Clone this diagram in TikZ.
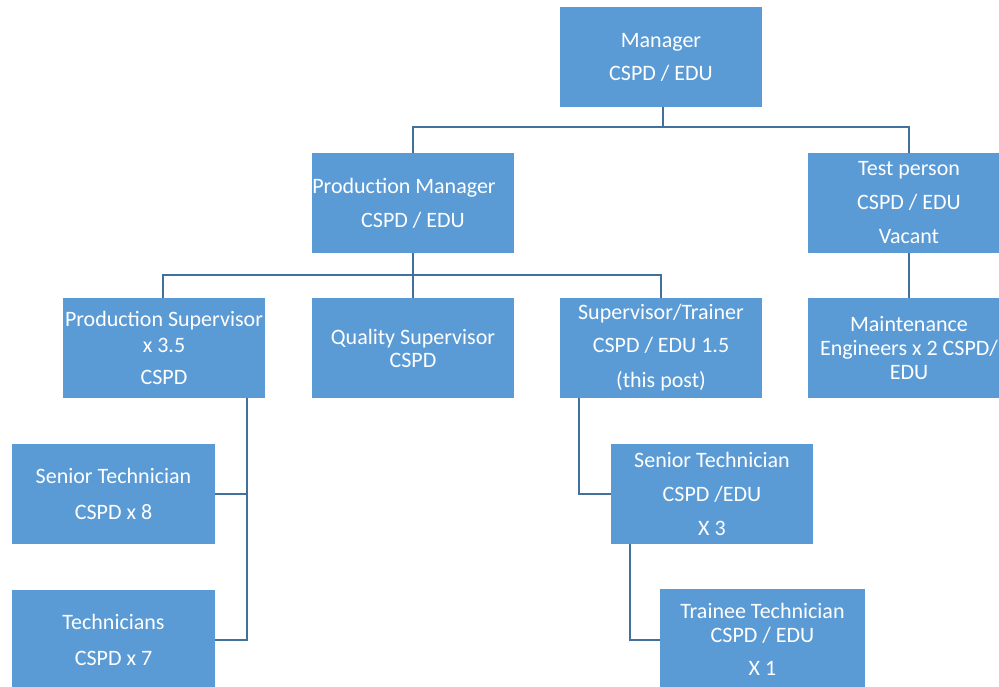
\documentclass[tikz,border=0pt]{standalone}
\usepackage{fontspec}
\setmainfont{Carlito}
\definecolor{boxblue}{HTML}{5B9BD5}
\definecolor{linkblue}{HTML}{41719C}
\begin{document}
\begin{tikzpicture}[x=1pt,y=-1pt,
  orgbox/.style={rectangle, fill=boxblue, draw=none, text=white, align=center,
    minimum width=202pt, minimum height=100pt, inner sep=0pt,
    font=\fontsize{22}{24}\selectfont},
  link/.style={draw=linkblue, line width=2.6pt}]
\clip (0,0) rectangle (999,687);
\fill[white] (0,0) rectangle (999,687);
\node[orgbox] (mgr) at (661,57) {Manager\\[9pt]CSPD / EDU};
\node[orgbox] (pm) at (413,203) {Production Manager\hspace*{18pt}\\[10pt]CSPD / EDU};
\node[orgbox] (test) at (909,203) {Test person\\[10pt]CSPD / EDU\\[10pt]Vacant};
\node[orgbox] (ps) at (164,348) {Production Supervisor\\[2pt]x 3.5\\[8pt]CSPD};
\node[orgbox] (qs) at (413,348) {Quality Supervisor\\[-1pt]CSPD};
\node[orgbox] (st) at (661,348) {Supervisor/Trainer\\[9pt]CSPD / EDU 1.5\\[11pt](this post)};
\node[orgbox] (maint) at (909,348) {Maintenance\\Engineers x 2 CSPD/\\EDU};
\node[orgbox, minimum width=203pt] (sen1) at (113.5,494) {Senior Technician\\[12pt]CSPD x 8};
\node[orgbox, minimum width=203pt] (tech) at (113.5,640) {Technicians\\[12pt]CSPD x 7};
\node[orgbox] (sen2) at (712,494) {Senior Technician\\[10pt]CSPD /EDU\\[10pt]X 3};
\node[orgbox, minimum width=205pt] (trainee) at (762.5,639) {Trainee Technician\\CSPD / EDU\\[9pt]X 1};
% connectors
\coordinate (j1) at (663,127);
\coordinate (j2) at (413,275);
\draw[link] (mgr.south -| j1) -- (j1);
\draw[link] (pm.north) -- (pm.north |- j1) -- (test.north |- j1) -- (test.north);
\draw[link] (pm.south) -- (j2);
\draw[link] (ps.north -| 163,0) -- (163,275) -- (661,275) -- (st.north);
\draw[link] (qs.north) -- (j2);
\draw[link] (test.south) -- (maint.north);
\coordinate (psb) at (247,640);
\draw[link] (ps.south -| psb) -- (psb) -- (tech.east |- psb);
\draw[link] (sen1.east) -- (sen1.east -| psb);
\coordinate (stb) at (579,494);
\draw[link] (st.south -| stb) -- (stb) -- (sen2.west);
\coordinate (s2b) at (630,640);
\draw[link] (sen2.south -| s2b) -- (s2b) -- (trainee.west |- s2b);
\end{tikzpicture}
\end{document}
